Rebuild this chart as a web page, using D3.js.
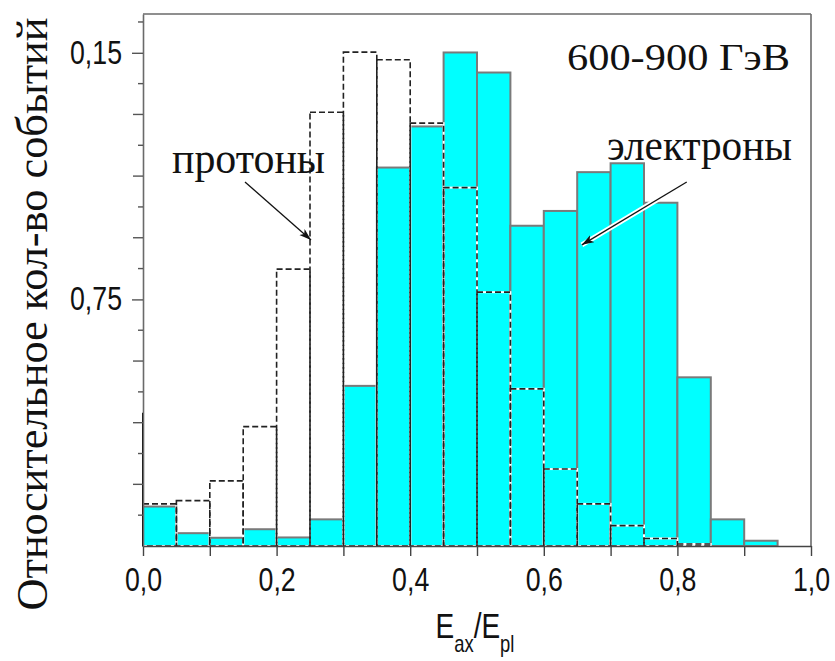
<!DOCTYPE html>
<html><head><meta charset="utf-8">
<script src="https://cdn.jsdelivr.net/npm/d3@7/dist/d3.min.js"></script>
<style>body{margin:0;background:#fff}svg{display:block}</style>
</head><body>
<svg id="chart" width="835" height="661"></svg>
<script>
// ---- data ----
const binStarts = [0.00,0.05,0.10,0.15,0.20,0.25,0.30,0.35,0.40,0.45,0.50,0.55,0.60,0.65,0.70,0.75,0.80,0.85,0.90];
const binWidth = 0.05;
const electrons = [0.0120,0.0039,0.0025,0.0051,0.0026,0.0081,0.0487,0.1151,0.1276,0.1501,0.1440,0.0974,0.1019,0.1137,0.1164,0.1044,0.0513,0.0081,0.0016];
const protons   = [0.0128,0.0138,0.0198,0.0363,0.0842,0.1319,0.1502,0.1479,0.1286,0.1090,0.0772,0.0478,0.0234,0.0128,0.0062,0.0023,0.0006,0,0];
const xTickValues = [0,0.1,0.2,0.3,0.4,0.5,0.6,0.7,0.8,0.9,1.0];
const xLabelValues = [0,0.2,0.4,0.6,0.8,1.0];
const xLabelTexts = ["0,0","0,2","0,4","0,6","0,8","1,0"];
const yLabelValues = [0.075,0.15];
const yLabelTexts = ["0,75","0,15"];
const yMinorStep = 0.009375;
const zeroEdgeMark = 0.0405;
const energyLabel = "600-900 ГэВ";
const yTitle = "Относительное кол-во событий";

// ---- layout ----
const svg = d3.select("#chart");
const x = d3.scaleLinear().domain([0,1]).range([143,811]);
const y = d3.scaleLinear().domain([0,0.1618]).range([546,14]);
const cyan = "#00ffff", gray = "#7a7a7a";

// electrons
svg.append("g").selectAll("rect").data(binStarts.map((b,i)=>({b,v:electrons[i]})).filter(d=>d.v>0))
  .join("rect")
  .attr("x",d=>x(d.b)).attr("width",d=>x(d.b+binWidth)-x(d.b))
  .attr("y",d=>y(d.v)).attr("height",d=>y(0)-y(d.v))
  .attr("fill",cyan).attr("stroke",gray).attr("stroke-width",2);

// protons (dashed outlines)
const pd = binStarts.map((b,i)=>({b,v:protons[i]})).filter(d=>d.v>0);
const pg = svg.append("g");
pg.selectAll("rect.w").data(pd).join("rect").attr("class","w")
  .attr("x",d=>x(d.b)).attr("width",d=>x(d.b+binWidth)-x(d.b))
  .attr("y",d=>y(d.v)).attr("height",d=>y(0)-y(d.v))
  .attr("fill","none").attr("stroke","#fff").attr("stroke-width",2);
pg.selectAll("rect.k").data(pd).join("rect").attr("class","k")
  .attr("x",d=>x(d.b)).attr("width",d=>x(d.b+binWidth)-x(d.b))
  .attr("y",d=>y(d.v)).attr("height",d=>y(0)-y(d.v))
  .attr("fill","none").attr("stroke","#222").attr("stroke-width",1.6)
  .attr("stroke-dasharray","6,3");

// left edge mark
svg.append("line").attr("x1",x(0)).attr("x2",x(0)).attr("y1",y(0)).attr("y2",y(zeroEdgeMark))
  .attr("stroke","#000").attr("stroke-width",2);

// frame
svg.append("line").attr("x1",x(0)).attr("x2",x(1)).attr("y1",y.range()[1]).attr("y2",y.range()[1]).attr("stroke","#6a6a6a").attr("stroke-width",1.6);
svg.append("line").attr("x1",x(1)).attr("x2",x(1)).attr("y1",y.range()[1]).attr("y2",y(0)).attr("stroke","#6a6a6a").attr("stroke-width",1.6);

// x axis
const xAxis = svg.append("g").attr("transform",`translate(0,${y(0)})`)
  .call(d3.axisBottom(x).tickValues(xTickValues).tickSize(10).tickSizeOuter(0)
    .tickFormat(d=>{const i=xLabelValues.findIndex(v=>Math.abs(v-d)<1e-9);return i>=0?xLabelTexts[i]:"";}).tickPadding(12));
xAxis.select(".domain").attr("stroke","#444").attr("stroke-width",1.6);
xAxis.selectAll(".tick line").attr("stroke","#444").attr("stroke-width",1.4);
xAxis.selectAll("text").attr("font-family","'Liberation Sans',Arial,sans-serif").attr("font-size",33).attr("fill","#111");

// y axis
const yAxis = svg.append("g").attr("transform",`translate(${x(0)},0)`)
  .call(d3.axisLeft(y).tickValues(yLabelValues).tickSize(11).tickSizeOuter(0)
    .tickFormat((d,i)=>yLabelTexts[i]).tickPadding(10));
yAxis.select(".domain").attr("stroke","#6a6a6a").attr("stroke-width",1.6);
yAxis.selectAll(".tick line").attr("stroke","#555").attr("stroke-width",1.4);
yAxis.selectAll("text").attr("font-family","'Liberation Sans',Arial,sans-serif").attr("font-size",33).attr("fill","#111");
// minor ticks
const minorVals = d3.range(0,18).map(i=>i*yMinorStep).filter(v=>yLabelValues.every(l=>Math.abs(l-v)>1e-9) && v>0);
yAxis.selectAll("line.minor").data(minorVals).join("line").attr("class","minor")
  .attr("x1",v=>Math.round(v/yMinorStep)%2===0?-10:-5).attr("x2",0)
  .attr("y1",v=>y(v)).attr("y2",v=>y(v)).attr("stroke","#555").attr("stroke-width",1.4);

// compress tick labels horizontally
svg.selectAll(".tick text").each(function(){
  const w=this.getComputedTextLength(); if(w>0){d3.select(this).attr("textLength",w*0.81).attr("lengthAdjust","spacingAndGlyphs");}
});

// x title
const xt = svg.append("g").attr("transform","translate(475,638) scale(0.8,1)")
  .append("text").attr("text-anchor","middle").attr("font-family","'Liberation Sans',Arial,sans-serif").attr("font-size",35).attr("fill","#111");
xt.append("tspan").text("E");
xt.append("tspan").attr("font-size",23).attr("dy",14).text("ax");
xt.append("tspan").attr("dy",-14).text("/E");
xt.append("tspan").attr("font-size",23).attr("dy",14).text("pl");

// y title
svg.append("text").attr("transform","translate(47,314) rotate(-90)").attr("text-anchor","middle")
  .attr("font-family","'Liberation Serif','Times New Roman',serif").attr("font-size",44).attr("fill","#111")
  .attr("textLength",593).attr("lengthAdjust","spacingAndGlyphs").text(yTitle);

// energy label
svg.append("text").attr("x",567).attr("y",70).attr("font-family","'Liberation Serif','Times New Roman',serif")
  .attr("font-size",38).attr("fill","#111").attr("textLength",223).attr("lengthAdjust","spacingAndGlyphs").text(energyLabel);

// annotations
const defs = svg.append("defs");
defs.append("marker").attr("id","ah").attr("markerUnits","userSpaceOnUse").attr("markerWidth",14).attr("markerHeight",10)
  .attr("refX",12).attr("refY",4).attr("orient","auto")
  .append("path").attr("d","M0,0 L12,4 L0,8 L3,4 Z").attr("fill","#111");

svg.append("text").attr("x",172).attr("y",173).attr("font-family","'Liberation Serif','Times New Roman',serif")
  .attr("font-size",44).attr("fill","#111").attr("textLength",153).attr("lengthAdjust","spacingAndGlyphs").text("протоны");
svg.append("line").attr("x1",x(0.1527)).attr("y1",y(0.1107)).attr("x2",x(0.2515)).attr("y2",y(0.0931))
  .attr("stroke","#111").attr("stroke-width",1.3).attr("marker-end","url(#ah)");

svg.append("text").attr("x",607).attr("y",160).attr("font-family","'Liberation Serif','Times New Roman',serif")
  .attr("font-size",45).attr("fill","#111").attr("textLength",185).attr("lengthAdjust","spacingAndGlyphs").text("электроны");
svg.append("line").attr("x1",x(0.814)).attr("y1",y(0.1107)).attr("x2",x(0.657)).attr("y2",y(0.0916))
  .attr("stroke","#fff").attr("stroke-width",5);
svg.append("line").attr("x1",x(0.814)).attr("y1",y(0.1107)).attr("x2",x(0.657)).attr("y2",y(0.0916))
  .attr("stroke","#111").attr("stroke-width",1.3).attr("marker-end","url(#ah)");
</script>
</body></html>
